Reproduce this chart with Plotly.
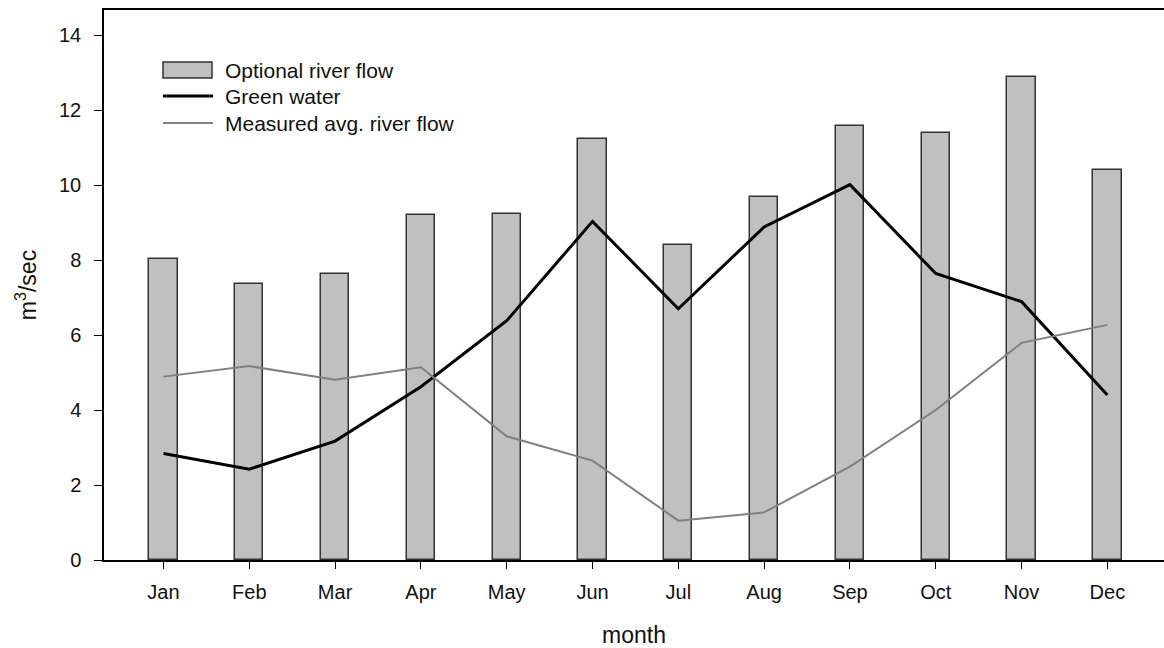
import plotly.graph_objects as go

# Monthly flows (m^3/sec)
months = ["Jan", "Feb", "Mar", "Apr", "May", "Jun",
          "Jul", "Aug", "Sep", "Oct", "Nov", "Dec"]
optional_flow = [8.03, 7.37, 7.62, 9.19, 9.22, 11.23,
                 8.40, 9.69, 11.57, 11.40, 12.88, 10.41]
green_water = [2.84, 2.42, 3.17, 4.62, 6.38, 9.03,
               6.70, 8.88, 10.01, 7.64, 6.89, 4.40]
measured_flow = [4.89, 5.17, 4.81, 5.14, 3.30, 2.65,
                 1.05, 1.27, 2.49, 4.00, 5.79, 6.27]
y_ticks = [0, 2, 4, 6, 8, 10, 12, 14]

FONT = "Liberation Sans, Arial, sans-serif"
TXT = "#111111"
BAR_FILL = "#c0c0c0"
BAR_EDGE = "#333333"

W, H = 1164, 648
ML, MR, MT, MB = 104, 0, 10, 88

x_idx = list(range(len(months)))

fig = go.Figure()
fig.add_trace(go.Bar(
    x=x_idx, y=optional_flow, width=0.33, name="Optional river flow",
    marker=dict(color=BAR_FILL, line=dict(color=BAR_EDGE, width=1.5)),
    showlegend=False,
))
fig.add_trace(go.Scatter(
    x=x_idx, y=green_water, mode="lines", name="Green water",
    line=dict(color="#000000", width=3), showlegend=False,
))
fig.add_trace(go.Scatter(
    x=x_idx, y=measured_flow, mode="lines", name="Measured avg. river flow",
    line=dict(color="#808080", width=2), showlegend=False,
))


def px_x(px):
    return (px - ML) / (W - ML - MR)


def px_y(py):
    return (H - MB - py) / (H - MT - MB)


# Legend drawn as a keyed box in the upper-left corner
shapes = [
    dict(type="rect", xref="paper", yref="paper",
         x0=px_x(163), x1=px_x(212), y0=px_y(78), y1=px_y(62),
         fillcolor=BAR_FILL, line=dict(color=BAR_EDGE, width=1.5)),
    dict(type="line", xref="paper", yref="paper",
         x0=px_x(163), x1=px_x(213), y0=px_y(96), y1=px_y(96),
         line=dict(color="#000000", width=3)),
    dict(type="line", xref="paper", yref="paper",
         x0=px_x(163), x1=px_x(213), y0=px_y(123), y1=px_y(123),
         line=dict(color="#808080", width=2)),
]
legend_labels = ["Optional river flow", "Green water", "Measured avg. river flow"]
legend_rows = [70, 96, 123]
annotations = [
    dict(text=t, xref="paper", yref="paper", x=px_x(223), y=px_y(r),
         xanchor="left", yanchor="middle", showarrow=False,
         font=dict(family=FONT, size=21, color=TXT))
    for t, r in zip(legend_labels, legend_rows)
]

fig.update_layout(
    width=W, height=H,
    margin=dict(l=ML, r=MR, t=MT, b=MB),
    paper_bgcolor="white", plot_bgcolor="white",
    font=dict(family=FONT, size=20, color=TXT),
    bargap=0,
    shapes=shapes,
    annotations=annotations,
    xaxis=dict(
        range=[-0.693, 11.66],
        tickmode="array", tickvals=x_idx, ticktext=months,
        showline=True, linecolor="#000000", linewidth=1.5, mirror=True,
        ticks="outside", ticklen=7, tickwidth=1.2, tickcolor="#000000",
        showgrid=False, zeroline=False,
        title=dict(text="month", font=dict(family=FONT, size=23, color=TXT), standoff=27),
        tickfont=dict(family=FONT, size=20, color=TXT),
        ticklabelstandoff=6,
    ),
    yaxis=dict(
        range=[0, 14.667],
        tickmode="array", tickvals=y_ticks,
        showline=True, linecolor="#000000", linewidth=1.5, mirror=False,
        ticks="outside", ticklen=8, tickwidth=1.2, tickcolor="#000000",
        showgrid=False, zeroline=False,
        title=dict(text="m<sup>3</sup>/sec", font=dict(family=FONT, size=23, color=TXT), standoff=16),
        tickfont=dict(family=FONT, size=20, color=TXT),
        ticklabelstandoff=9,
    ),
)

fig.write_html("out.html")
